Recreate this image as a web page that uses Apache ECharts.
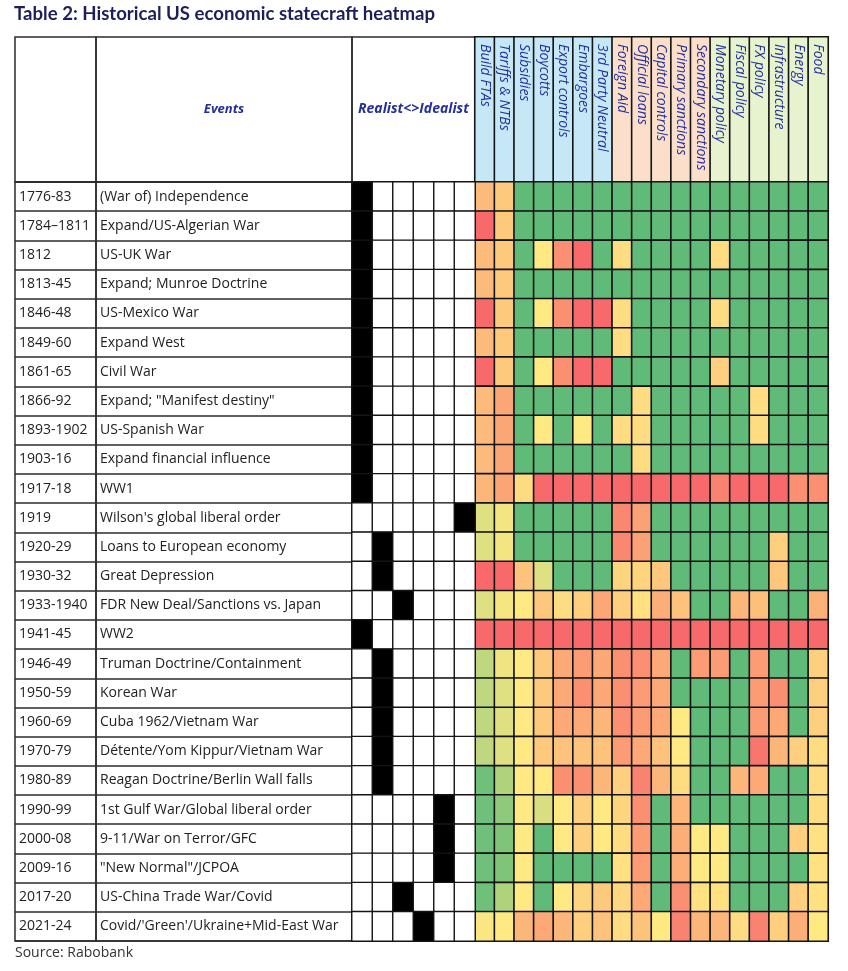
<!DOCTYPE html>
<html><head><meta charset="utf-8">
<script src="https://cdn.jsdelivr.net/npm/echarts@6/dist/echarts.min.js"></script>
<style>html,body{margin:0;padding:0;background:#fff}#c{width:848px;height:971px}</style>
</head><body><div id="c"></div>
<script>
// ---------------- DATA ----------------
const titleText = 'Table 2: Historical US economic statecraft heatmap';
const sourceText = 'Source: Rabobank';
const eventsHeader = 'Events';
const stanceHeader = 'Realist<>Idealist';

const periods = ['1776-83','1784–1811','1812','1813-45','1846-48','1849-60','1861-65','1866-92','1893-1902','1903-16','1917-18','1919','1920-29','1930-32','1933-1940','1941-45','1946-49','1950-59','1960-69','1970-79','1980-89','1990-99','2000-08','2009-16','2017-20','2021-24'];
const events = ['(War of) Independence','Expand/US-Algerian War','US-UK War','Expand; Munroe Doctrine','US-Mexico War','Expand West','Civil War','Expand; "Manifest destiny"','US-Spanish War','Expand financial influence','WW1',"Wilson's global liberal order",'Loans to European economy','Great Depression','FDR New Deal/Sanctions vs. Japan','WW2','Truman Doctrine/Containment','Korean War','Cuba 1962/Vietnam War','Détente/Yom Kippur/Vietnam War','Reagan Doctrine/Berlin Wall falls','1st Gulf War/Global liberal order','9-11/War on Terror/GFC','"New Normal"/JCPOA','US-China Trade War/Covid',"Covid/'Green'/Ukraine+Mid-East War"];

// position on the 6-step Realist (0) <> Idealist (5) scale
const stanceSteps = ['1','2','3','4','5','6'];
const stance = [0,0,0,0,0,0,0,0,0,0,0,5,1,1,2,0,1,1,1,1,1,4,4,4,2,3];

const instruments = ['Build FTAs','Tariffs & NTBs','Subsidies','Boycotts','Export controls','Embargoes','3rd Party Neutral','Foreign Aid','Official loans','Capital controls','Primary sanctions','Secondary sanctions','Monetary policy','Fiscal policy','FX policy','Infrastructure','Energy','Food'];
const instrumentGroup = [0,0,0,0,0,0,0,1,1,1,1,1,2,2,2,2,2,2];

// intensity 0 (green) .. 5 (yellow) .. 10 (red), one array per instrument, rows in period order
const buildFTAs      = [6.8,10,6.8,6.8,10,6.8,10,6.8,6.8,6.8,7,4,4,10,4,10,3,3,3,3,0.5,0.5,0.5,0.5,0.5,4.8];
const tariffsNTBs    = [6.2,6.2,6.2,6.2,6.2,6.2,6.2,7.6,7.6,7.6,7.7,4.6,4.6,10,4.7,10,4.5,4,4,4,2.5,1.5,1,1,2.5,5];
const subsidies      = [0,0,0,0,0,0,0,0,0,0,5.6,0,0,6.5,5,10,5,5,5,5,5,5,5,5,5,7];
const boycotts       = [0,0,5,0,5,0,5,0,5,0,10,0,0,4,6.3,10,6.2,6.2,6.2,6.2,5,3.8,0,0,0,7.5];
const exportControls = [0,0,8.5,0,8.5,0,8.5,0,0,0,10,0,0,0,5.5,10,7.5,7.5,7.5,6.5,8.5,5,5,0,5,7];
const embargoes      = [0,0,10,0,10,0,10,0,5,0,10,0,0,0,6,10,8,8.5,7.5,6.5,8.5,6,6,0,5.8,6];
const thirdParty     = [0,0,0,0,10,0,10,0,0,0,10,0,0,0,7.5,10,7.5,7.5,7,6.5,7,5,5,0,6.2,6.5];
const foreignAid     = [0,0,5.5,0,5.5,5.5,0,0,5.5,0,10,8.8,8.8,5.8,6,10,8.5,8.5,8.5,8,6,5.8,5.5,5.3,5.7,5.5];
const officialLoans  = [0,0,0,0,0,0,0,5.5,5.5,5.5,10,7.8,7.8,5.8,5.3,10,8.5,8,8,7.5,9,8.5,8,8,7.5,6.5];
const capitalControls= [0,0,0,0,0,0,0,0,0,0,10,0,0,6.3,7.3,10,7.5,7.5,7.5,6.5,7,0,0,0,0,5];
const primarySanct   = [0,0,0,0,0,0,0,0,0,0,10,0,0,0,6.5,10,0,0,5,5,5.5,7,7.3,7.3,8.5,9];
const secondarySanct = [0,0,0,0,0,0,0,0,0,0,10,0,0,0,0,10,8,0,0,0,0,0,5,5,5.3,7];
const monetaryPolicy = [0,0,5.5,0,5.5,0,6,0,0,0,9,0,0,0,0,10,8,0,0,0,0,0,5,5,5.3,7];
const fiscalPolicy   = [0,0,0,0,0,0,0,0,0,0,10,0,0,0,7,10,0,0,0,0,7,0,0,0,0,5.5];
const fxPolicy       = [0,0,0,0,0,0,0,5.5,5.5,0,10,0,0,0,6.6,10,8,8,8,9.5,7.5,0,0,0,0,9];
const infrastructure = [0,0,0,0,0,0,0,0,0,0,10,0,6,6.3,0,10,0,8.5,7.5,7,0,0,0,0,0,6];
const energy         = [0,0,0,0,0,0,0,0,0,0,8.5,0,0,0,0,10,0,0,0,6,0,0,6,0,6,7.3];
const food           = [0,0,0,0,0,0,0,0,0,0,8.5,0,0,0,7.2,10,6,6,6,5.5,5.5,5.5,5.3,5.3,5.3,5];

const instrumentValues = [buildFTAs,tariffsNTBs,subsidies,boycotts,exportControls,embargoes,thirdParty,foreignAid,officialLoans,capitalControls,primarySanct,secondarySanct,monetaryPolicy,fiscalPolicy,fxPolicy,infrastructure,energy,food];

// ---------------- BUILD ----------------
const heatData = [];
instrumentValues.forEach((col, ci) => col.forEach((v, ri) => heatData.push([ci, ri, v])));
const stanceData = [];
stance.forEach((s, ri) => stanceSteps.forEach((_, k) => stanceData.push([k, ri, k === s ? 1 : 0])));
const headData = instrumentGroup.map((g, ci) => [ci, 0, g]);

const FONT = 'Open Sans';
const LINE = '#2b2b2b';
const HEADCOLOR = '#23309a';

const bodyTop = 182, bodyH = 759, headTop = 37, headH = 145;
const cols = {year:[15,81], event:[96,256], stance:[352,123], heat:[475,353]};

function grid(c, top, h, border){
  return {left: c[0], top: top, width: c[1], height: h, show: border, borderColor: LINE, borderWidth: 1.5,
          backgroundColor: 'transparent', containLabel: false, outerBoundsMode: 'none'};
}

const grids = [
  grid(cols.year, bodyTop, bodyH, true),    //0
  grid(cols.event, bodyTop, bodyH, true),   //1
  grid(cols.stance, bodyTop, bodyH, false), //2
  grid(cols.heat, bodyTop, bodyH, false),   //3
  grid(cols.year, headTop, headH, true),    //4
  grid(cols.event, headTop, headH, true),   //5
  grid(cols.stance, headTop, headH, true),  //6
  grid(cols.heat, headTop, headH, false),   //7
  grid(cols.heat, 0, headTop, false)        //8 carries the rotated header labels
];

const hiddenCat = (gi, data, extra) => Object.assign({type:'category', gridIndex: gi, data: data, show:false}, extra || {});

const textRowAxis = (gi, data) => ({
  type:'category', gridIndex: gi, data: data, inverse: true,
  axisLine:{show:false}, axisTick:{show:false},
  axisLabel:{inside:true, margin:4, interval:0, align:'left', fontSize:14, color:'#222', fontFamily: FONT},
  splitLine:{show:true, interval:0, lineStyle:{color: LINE, width:1.5}}
});

const headCenterAxis = (gi, label, half, size) => ({
  type:'category', gridIndex: gi, data:[label],
  axisLine:{show:false}, axisTick:{show:false}, splitLine:{show:false},
  axisLabel:{inside:true, margin: half, align:'center', verticalAlign:'middle', fontSize:size, fontStyle:'italic',
             fontWeight:'bold', color: HEADCOLOR, fontFamily: FONT}
});

const option = {
  animation: false,
  backgroundColor: '#fff',
  title: [
    {text: titleText, left: 14, top: 4, padding: 0,
     textStyle:{fontSize:18.6, fontWeight:'bold', color:'#1c1f5c', fontFamily: 'Lato'}},
    {text: sourceText, left: 15, top: 946, padding: 0,
     textStyle:{fontSize:14, fontWeight:'normal', color:'#333', fontFamily: FONT}}
  ],
  grid: grids,
  xAxis: [
    hiddenCat(0, ['']),
    hiddenCat(1, ['']),
    hiddenCat(2, stanceSteps),
    hiddenCat(3, instruments),
    hiddenCat(4, ['']),
    hiddenCat(5, ['']),
    hiddenCat(6, ['']),
    hiddenCat(7, instruments),
    {type:'category', gridIndex:8, data: instruments, position:'bottom', z: 10,
     axisLine:{show:false}, axisTick:{show:false}, splitLine:{show:false},
     axisLabel:{rotate:-90, margin:7, interval:0, hideOverlap:false,
                fontSize:14, fontStyle:'italic', color: HEADCOLOR, fontFamily: FONT}}
  ],
  yAxis: [
    textRowAxis(0, periods),
    textRowAxis(1, events),
    hiddenCat(2, periods, {inverse:true}),
    hiddenCat(3, periods, {inverse:true}),
    hiddenCat(4, ['']),
    headCenterAxis(5, eventsHeader, cols.event[1] / 2, 13),
    headCenterAxis(6, stanceHeader, cols.stance[1] / 2, 14),
    hiddenCat(7, ['']),
    hiddenCat(8, [''])
  ],
  visualMap: [
    {type:'continuous', show:false, seriesIndex:0, dimension:2, min:0, max:10,
     inRange:{color:['#5fbb77','#ffe983','#f8696b']}},
    {type:'piecewise', show:false, seriesIndex:1, dimension:2,
     pieces:[{value:0, color:'#ffffff'},{value:1, color:'#000000'}]},
    {type:'piecewise', show:false, seriesIndex:2, dimension:2,
     pieces:[{value:0, color:'#c6e8f6'},{value:1, color:'#fbdfcb'},{value:2, color:'#e7f2cf'}]}
  ],
  series: [
    {type:'heatmap', xAxisIndex:3, yAxisIndex:3, data: heatData, silent:true,
     itemStyle:{borderColor:'#141414', borderWidth:1.6}, emphasis:{disabled:true}},
    {type:'heatmap', xAxisIndex:2, yAxisIndex:2, data: stanceData, silent:true,
     itemStyle:{borderColor:'#141414', borderWidth:1.4}, emphasis:{disabled:true}},
    {type:'heatmap', xAxisIndex:7, yAxisIndex:7, data: headData, silent:true, z: 1,
     itemStyle:{borderColor:'#141414', borderWidth:1.6}, emphasis:{disabled:true}}
  ]
};

const chart = echarts.init(document.getElementById('c'));
chart.setOption(option);
</script>
</body></html>
